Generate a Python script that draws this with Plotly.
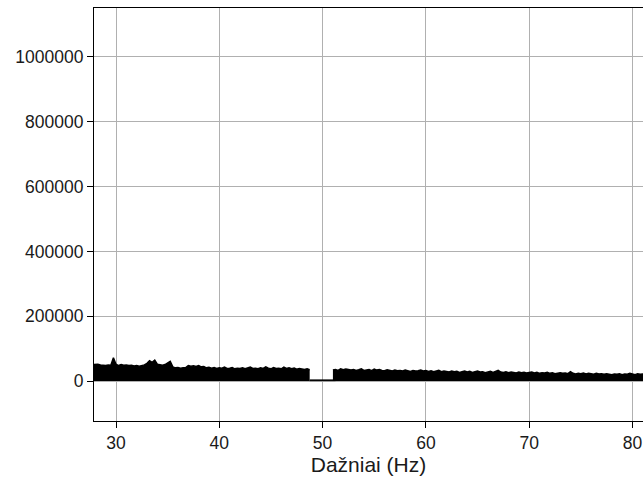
import numpy as np
import plotly.graph_objects as go

# Spectrum magnitude (upper envelope), sampled every 0.25 Hz
step_hz = 0.25

band_low_start = 27.5
band_low_amp = [
    50000, 51000, 53000, 52000, 50000, 49000, 48000, 50000, 49000, 72000,
    52000, 48000, 51000, 49000, 50000, 48000, 49000, 47000, 48000, 46000,
    47000, 50000, 55000, 63000, 58000, 65000, 52000, 50000, 49000, 51000,
    55000, 61000, 44000, 41000, 42000, 40000, 41000, 42000, 48000, 46000,
    47000, 45000, 48000, 44000, 45000, 41000, 43000, 40000, 42000, 39000,
    41000, 40000, 43000, 39000, 40000, 42000, 38000, 40000, 39000, 41000,
    38000, 40000, 43000, 39000, 40000, 38000, 41000, 39000, 44000, 40000,
    38000, 42000, 39000, 40000, 38000, 43000, 39000, 41000, 38000, 40000,
    37000, 39000, 38000, 36000, 38000, 35000,
]

# 50 Hz notch region
notch_start = 48.75
notch_amp = [3000, 3000, 2500, 3000, 3000, 2500, 3000, 3000, 2500, 3000, 3000]

band_high_start = 51.0
band_high_amp = [
    34000, 36000, 33000, 38000, 35000, 37000, 36000, 34000, 36000, 33000,
    35000, 38000, 33000, 34000, 36000, 32000, 37000, 34000, 36000, 33000,
    32000, 35000, 33000, 31000, 34000, 32000, 33000, 31000, 34000, 32000,
    30000, 33000, 31000, 32000, 34000, 31000, 33000, 30000, 32000, 29000,
    31000, 33000, 29000, 31000, 30000, 28000, 31000, 29000, 30000, 27000,
    29000, 31000, 28000, 30000, 27000, 29000, 31000, 28000, 29000, 26000,
    28000, 30000, 27000, 29000, 33000, 28000, 27000, 29000, 26000, 28000,
    27000, 25000, 28000, 26000, 27000, 25000, 27000, 28000, 25000, 27000,
    24000, 26000, 25000, 27000, 24000, 26000, 23000, 25000, 26000, 24000,
    25000, 23000, 29000, 24000, 22000, 24000, 23000, 25000, 22000, 24000,
    23000, 21000, 24000, 22000, 23000, 21000, 23000, 22000, 20000, 22000,
    21000, 23000, 20000, 22000, 21000, 24000, 22000, 20000, 23000, 21000,
    22000, 21000,
]

x_ticks = [30, 40, 50, 60, 70, 80]
y_ticks = [0, 200000, 400000, 600000, 800000, 1000000]
x_range = [27.87, 81.02]
y_range = [-123000, 1150800]


def freqs(start, values):
    return list(start + step_hz * np.arange(len(values)))


fig = go.Figure()
# notch first so the two bands sit on top of its ends
for start, values in [(notch_start, notch_amp),
                      (band_low_start, band_low_amp),
                      (band_high_start, band_high_amp)]:
    fig.add_trace(go.Scatter(
        x=freqs(start, values), y=values, mode="lines",
        line=dict(color="black", width=1.5),
        fill="tozeroy", fillcolor="black",
        hoverinfo="skip", showlegend=False,
    ))

font_family = "Liberation Sans, Arial, sans-serif"
axis_common = dict(
    showgrid=True, gridcolor="#b0b0b0", gridwidth=1,
    zeroline=False,
    showline=True, linecolor="black", linewidth=1,
    ticks="outside", ticklen=6, tickwidth=1, tickcolor="black",
    tickfont=dict(family=font_family, size=17.5, color="#1a1a1a"),
)

fig.update_layout(
    width=643, height=477,
    margin=dict(l=94, r=0, t=8, b=56),
    paper_bgcolor="white", plot_bgcolor="white",
    xaxis=dict(
        range=x_range, tickvals=x_ticks, ticktext=[str(v) for v in x_ticks],
        mirror=True,
        title=dict(text="Dažniai (Hz)", font=dict(family=font_family, size=21, color="#1a1a1a"),
                   standoff=2),
        **axis_common,
    ),
    yaxis=dict(
        range=y_range, tickvals=y_ticks, ticktext=[str(v) for v in y_ticks],
        **axis_common,
    ),
)

fig.write_html("out.html")
